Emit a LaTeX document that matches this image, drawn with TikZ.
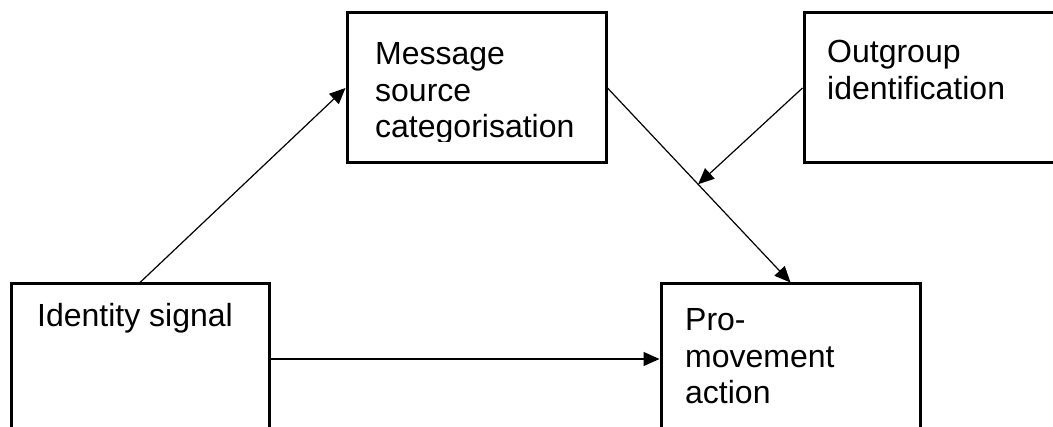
\documentclass[tikz,border=0pt]{standalone}
\usepackage{fontspec}
\setmainfont{Liberation Sans}
\usetikzlibrary{arrows.meta,calc}
\begin{document}
\begin{tikzpicture}[x=1pt,y=-1pt,
  box/.style={draw,line width=3pt,rectangle,inner sep=0pt,minimum height=150pt},
  lbl/.style={anchor=base west,inner sep=0pt,align=left,font=\fontsize{32}{36.5}\selectfont},
  conn/.style={line width=1.2pt,-{Triangle[length=16pt,width=14pt]}}]
\useasboundingbox (0,0) rectangle (1053,427);
\clip (0,0) rectangle (1053,427);
\fill[white] (0,0) rectangle (1053,427);
% boxes
\node[box,minimum width=259pt] (msg) at (476.5,88) {};
\node[box,minimum width=260pt] (out) at (934,88) {};
\node[box,minimum width=258pt] (id) at (140,359) {};
\node[box,minimum width=259pt] (pro) at (790.5,359) {};
% labels (anchored at the baseline of the last line)
\begin{scope}
\clip (340,0) rectangle (620,141.5);
\node[lbl] (msgt) at (375,138) {Message\\source\\categorisation};
\end{scope}
\node[lbl] (outt) at (827,99.5) {Outgroup\\identification};
\node[lbl] (idt) at (37,327) {Identity signal};
\node[lbl] (prot) at (685,404) {Pro-\\movement\\action};
% connectors
\coordinate (mid) at ($(msg.east)!0.495!(pro.north)$);
\draw[conn] (id.north) -- (msg.west);
\draw[conn] (msg.east) -- (pro.north);
\draw[conn] (out.west) -- (mid);
\draw[conn] (id.east) -- (pro.west);
\end{tikzpicture}
\end{document}
